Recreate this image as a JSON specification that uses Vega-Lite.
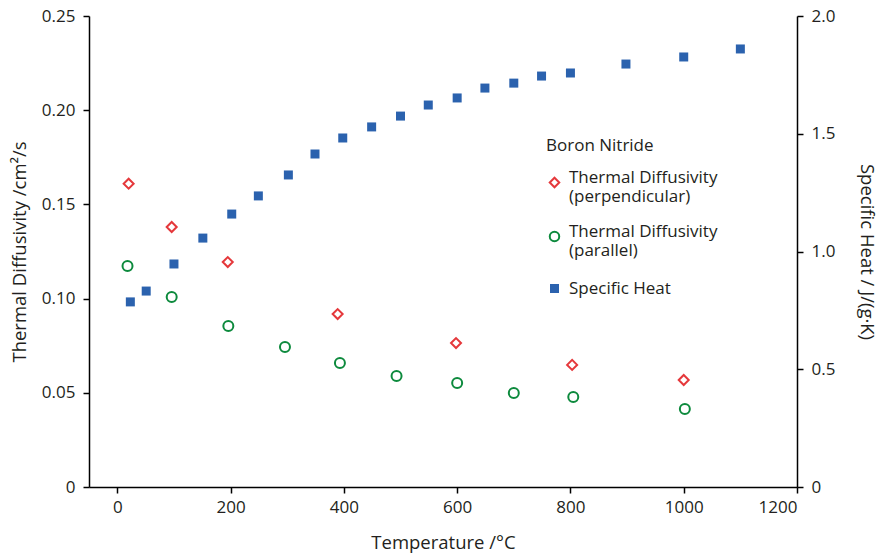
{
  "$schema": "https://vega.github.io/schema/vega-lite/v6.json",
  "width": 708,
  "height": 471,
  "autosize": "none",
  "padding": {"left": 89, "top": 16, "right": 95, "bottom": 66},
  "background": "white",
  "config": {
    "view": {"stroke": null},
    "font": "Open Sans",
    "axis": {
      "labelFont": "Open Sans", "titleFont": "Open Sans",
      "labelFontSize": 17, "titleFontSize": 18.5,
      "labelColor": "#231f20", "titleColor": "#231f20",
      "titleFontWeight": "normal",
      "domainColor": "#000", "tickColor": "#000", "domainWidth": 1.5, "tickWidth": 1.5,
      "tickSize": 6, "grid": false
    },
    "legend": {
      "titleFont": "Open Sans", "titleFontSize": 17, "titleFontWeight": "normal", "titleColor": "#231f20",
      "labelFont": "Open Sans", "labelFontSize": 17, "labelColor": "#231f20", "labelOffset": 6, "symbolOpacity": 1
    }
  },
  "datasets": {
    "td": [
      {"T": 20, "v": 0.161, "series": "Thermal Diffusivity (perpendicular)"},
      {"T": 96, "v": 0.138, "series": "Thermal Diffusivity (perpendicular)"},
      {"T": 195, "v": 0.1194, "series": "Thermal Diffusivity (perpendicular)"},
      {"T": 389, "v": 0.0918, "series": "Thermal Diffusivity (perpendicular)"},
      {"T": 598, "v": 0.0764, "series": "Thermal Diffusivity (perpendicular)"},
      {"T": 803, "v": 0.0648, "series": "Thermal Diffusivity (perpendicular)"},
      {"T": 1000, "v": 0.0568, "series": "Thermal Diffusivity (perpendicular)"},
      {"T": 18, "v": 0.1173, "series": "Thermal Diffusivity (parallel)"},
      {"T": 96, "v": 0.1008, "series": "Thermal Diffusivity (parallel)"},
      {"T": 196, "v": 0.0855, "series": "Thermal Diffusivity (parallel)"},
      {"T": 296, "v": 0.0743, "series": "Thermal Diffusivity (parallel)"},
      {"T": 393, "v": 0.0658, "series": "Thermal Diffusivity (parallel)"},
      {"T": 493, "v": 0.0589, "series": "Thermal Diffusivity (parallel)"},
      {"T": 600, "v": 0.0552, "series": "Thermal Diffusivity (parallel)"},
      {"T": 700, "v": 0.0499, "series": "Thermal Diffusivity (parallel)"},
      {"T": 805, "v": 0.0478, "series": "Thermal Diffusivity (parallel)"},
      {"T": 1002, "v": 0.0414, "series": "Thermal Diffusivity (parallel)"}
    ],
    "cp": [
      {"T": 23, "v": 0.786, "series": "Specific Heat"},
      {"T": 51, "v": 0.832, "series": "Specific Heat"},
      {"T": 100, "v": 0.947, "series": "Specific Heat"},
      {"T": 151, "v": 1.057, "series": "Specific Heat"},
      {"T": 202, "v": 1.159, "series": "Specific Heat"},
      {"T": 249, "v": 1.236, "series": "Specific Heat"},
      {"T": 302, "v": 1.325, "series": "Specific Heat"},
      {"T": 349, "v": 1.414, "series": "Specific Heat"},
      {"T": 398, "v": 1.482, "series": "Specific Heat"},
      {"T": 449, "v": 1.529, "series": "Specific Heat"},
      {"T": 500, "v": 1.575, "series": "Specific Heat"},
      {"T": 549, "v": 1.622, "series": "Specific Heat"},
      {"T": 600, "v": 1.652, "series": "Specific Heat"},
      {"T": 649, "v": 1.694, "series": "Specific Heat"},
      {"T": 700, "v": 1.715, "series": "Specific Heat"},
      {"T": 749, "v": 1.745, "series": "Specific Heat"},
      {"T": 800, "v": 1.758, "series": "Specific Heat"},
      {"T": 898, "v": 1.796, "series": "Specific Heat"},
      {"T": 1000, "v": 1.826, "series": "Specific Heat"},
      {"T": 1100, "v": 1.86, "series": "Specific Heat"}
    ]
  },
  "encoding": {
    "x": {
      "field": "T", "type": "quantitative",
      "scale": {"domain": [-50, 1200], "nice": false, "zero": false},
      "axis": {"title": "Temperature /°C", "values": [0, 200, 400, 600, 800, 1000, 1200], "format": "d", "labelPadding": 6, "titlePadding": 18}
    }
  },
  "layer": [
    {
      "data": {"name": "td"},
      "mark": {"type": "point", "filled": false, "strokeWidth": 2, "size": 100, "opacity": 1},
      "encoding": {
        "y": {
          "field": "v", "type": "quantitative",
          "scale": {"domain": [0, 0.25], "nice": false},
          "axis": {"title": "Thermal Diffusivity /cm²/s", "values": [0, 0.05, 0.1, 0.15, 0.2, 0.25], "labelExpr": "datum.value == 0 ? '0' : format(datum.value, '.2f')", "labelPadding": 8, "titlePadding": 12}
        },
        "color": {
          "field": "series", "type": "nominal",
          "scale": {
            "domain": ["Thermal Diffusivity (perpendicular)", "Thermal Diffusivity (parallel)"],
            "range": ["#e5383b", "#0d8a3d"]
          },
          "legend": {
            "title": "Boron Nitride",
            "orient": "none", "legendX": 457, "legendY": 122,
            "titlePadding": 19,
            "labelExpr": "[slice(datum.label, 0, 19), slice(datum.label, 20)]",
            "rowPadding": 17, "symbolStrokeWidth": 2, "symbolSize": 90,
            "labelBaseline": "alphabetic"
          }
        },
        "shape": {
          "field": "series", "type": "nominal",
          "scale": {
            "domain": ["Thermal Diffusivity (perpendicular)", "Thermal Diffusivity (parallel)"],
            "range": ["diamond", "circle"]
          },
          "legend": null
        }
      }
    },
    {
      "data": {"name": "cp"},
      "mark": {"type": "point", "filled": true, "opacity": 1, "size": 81, "shape": "square"},
      "encoding": {
        "y": {
          "field": "v", "type": "quantitative",
          "scale": {"domain": [0, 2.0], "nice": false},
          "axis": {"orient": "right", "title": "Specific Heat / J/(g·K)", "values": [0, 0.5, 1, 1.5, 2], "labelExpr": "datum.value == 0 ? '0' : format(datum.value, '.1f')", "labelPadding": 8, "titlePadding": 22}
        },
        "fill": {
          "field": "series", "type": "nominal",
          "scale": {"domain": ["Specific Heat"], "range": ["#2b62ae"]},
          "legend": {
            "title": null,
            "orient": "none", "legendX": 457, "legendY": 264,
            "symbolSize": 81, "symbolType": "square"
          }
        }
      }
    }
  ],
  "resolve": {"scale": {"y": "independent"}}
}
